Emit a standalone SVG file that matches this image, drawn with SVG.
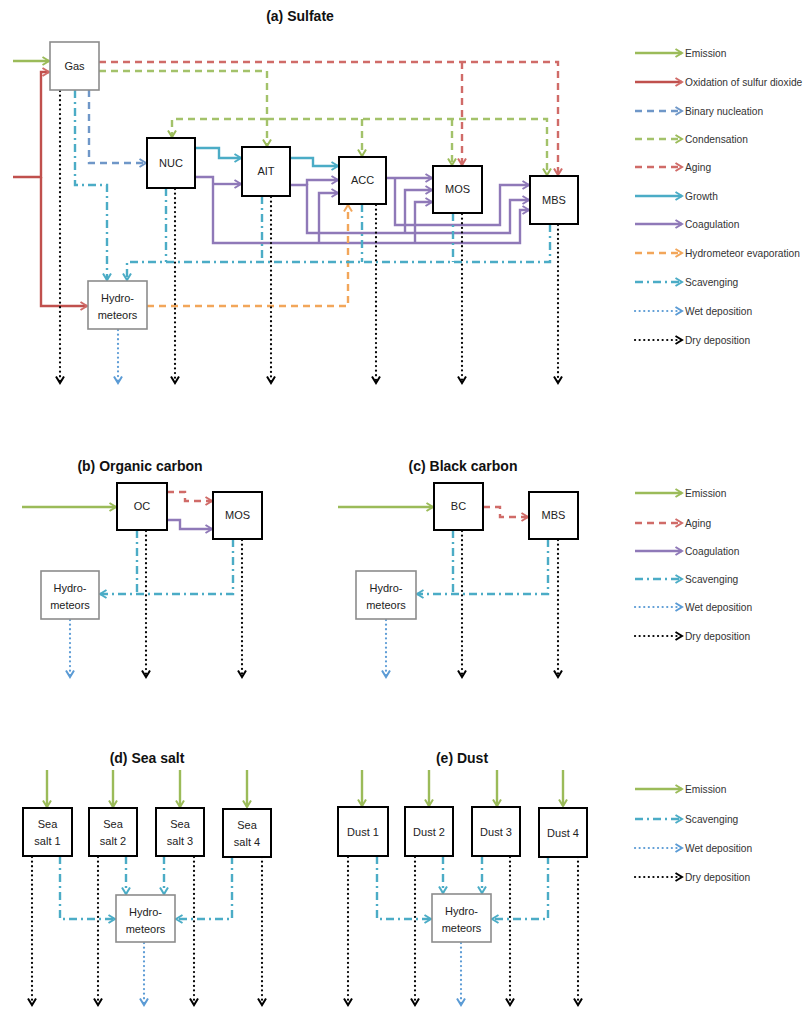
<svg xmlns="http://www.w3.org/2000/svg" width="803" height="1012" viewBox="0 0 803 1012">
<defs>
<style>
.box{fill:#fff;stroke:#000;stroke-width:2}
.hbox{fill:#fff;stroke:#8c8c8c;stroke-width:1.6}
text{font-family:"Liberation Sans",Arial,sans-serif;fill:#222}
.lbl{font-size:11px;text-anchor:middle}
.ttl{font-size:14px;font-weight:bold;text-anchor:middle;fill:#111}
.leg{font-size:10.2px;fill:#333}
.c{fill:none;stroke-width:2.4}
.emi{stroke:#9bbb59;marker-end:url(#mG)}
.oxi{stroke:#c0504d;marker-end:url(#mR)}
.nuc{stroke:#6f97c8;stroke-dasharray:7 5;marker-end:url(#mB)}
.cond{stroke:#a3c26a;stroke-dasharray:7 5;marker-end:url(#mG)}
.age{stroke:#d06b68;stroke-dasharray:7 5;marker-end:url(#mR)}
.grow{stroke:#4bacc6;marker-end:url(#mC)}
.coag{stroke:#8f79b8;marker-end:url(#mP)}
.evap{stroke:#f2a65a;stroke-dasharray:7 5;marker-end:url(#mO)}
.scav{stroke:#4bacc6;stroke-dasharray:8 4 2 4;marker-end:url(#mC)}
.wet{stroke:#5b9bd5;stroke-width:2.2;stroke-dasharray:0.1 4.5;stroke-linecap:round;marker-end:url(#mW)}
.dry{stroke:#000;stroke-width:2.2;stroke-dasharray:0.1 4.5;stroke-linecap:round;marker-end:url(#mK)}
.nm{marker-end:none}
</style>
<marker id="mG" viewBox="0 0 10 10" refX="8.5" refY="5" markerWidth="10" markerHeight="10" markerUnits="userSpaceOnUse" orient="auto"><path d="M2,1 L8.5,5 L2,9" fill="none" stroke="#9bbb59" stroke-width="2"/></marker>
<marker id="mR" viewBox="0 0 10 10" refX="8.5" refY="5" markerWidth="10" markerHeight="10" markerUnits="userSpaceOnUse" orient="auto"><path d="M2,1 L8.5,5 L2,9" fill="none" stroke="#d06b68" stroke-width="2"/></marker>
<marker id="mB" viewBox="0 0 10 10" refX="8.5" refY="5" markerWidth="10" markerHeight="10" markerUnits="userSpaceOnUse" orient="auto"><path d="M2,1 L8.5,5 L2,9" fill="none" stroke="#6f97c8" stroke-width="2"/></marker>
<marker id="mC" viewBox="0 0 10 10" refX="8.5" refY="5" markerWidth="10" markerHeight="10" markerUnits="userSpaceOnUse" orient="auto"><path d="M2,1 L8.5,5 L2,9" fill="none" stroke="#4bacc6" stroke-width="2"/></marker>
<marker id="mP" viewBox="0 0 10 10" refX="8.5" refY="5" markerWidth="10" markerHeight="10" markerUnits="userSpaceOnUse" orient="auto"><path d="M2,1 L8.5,5 L2,9" fill="none" stroke="#8f79b8" stroke-width="2"/></marker>
<marker id="mO" viewBox="0 0 10 10" refX="8.5" refY="5" markerWidth="10" markerHeight="10" markerUnits="userSpaceOnUse" orient="auto"><path d="M2,1 L8.5,5 L2,9" fill="none" stroke="#f2a65a" stroke-width="2"/></marker>
<marker id="mW" viewBox="0 0 10 10" refX="8.5" refY="5" markerWidth="10" markerHeight="10" markerUnits="userSpaceOnUse" orient="auto"><path d="M2,1 L8.5,5 L2,9" fill="none" stroke="#5b9bd5" stroke-width="2"/></marker>
<marker id="mK" viewBox="0 0 10 10" refX="8.5" refY="5" markerWidth="10" markerHeight="10" markerUnits="userSpaceOnUse" orient="auto"><path d="M2,1 L8.5,5 L2,9" fill="none" stroke="#000" stroke-width="2"/></marker>
</defs>
<rect width="803" height="1012" fill="#fff"/>

<!-- Titles -->
<text class="ttl" x="300" y="21">(a) Sulfate</text>
<text class="ttl" x="140" y="471">(b) Organic carbon</text>
<text class="ttl" x="463" y="471">(c) Black carbon</text>
<text class="ttl" x="147" y="763">(d) Sea salt</text>
<text class="ttl" x="462" y="763">(e) Dust</text>

<!-- Connectors -->
<g id="connectors">
<!-- (a) -->
<path class="c emi" d="M13,61 H49"/>
<path class="c oxi" d="M13,177 H41 V72 H49"/>
<path class="c oxi" d="M41,177 V306 H87"/>
<path class="c nuc" d="M89,90 V163 H146"/>
<path class="c age" d="M99,62 H558 V175"/>
<path class="c age" d="M462,62 V165"/>
<path class="c cond" d="M99,71 H267 V146"/>
<path class="c cond" d="M267,119 H172 V137"/>
<path class="c cond" d="M267,119 H547 V175"/>
<path class="c cond" d="M362,119 V156"/>
<path class="c cond" d="M452,119 V165"/>
<path class="c grow" d="M195,148 H219 V158 H241"/>
<path class="c grow" d="M290,158 H313 V166 H338"/>
<path class="c coag" d="M195,177 H213 V243 H520 V210 H529"/>
<path class="c coag" d="M213,184 H241"/>
<path class="c coag" d="M319,243 V193 H338"/>
<path class="c coag" d="M415,243 V202 H432"/>
<path class="c coag" d="M290,185 H307 V233 H510 V200 H529"/>
<path class="c coag" d="M307,185 V180 H338"/>
<path class="c coag" d="M405,233 V190 H432"/>
<path class="c coag" d="M386,178 H432"/>
<path class="c coag" d="M395,178 V225 H500 V185 H529"/>
<path class="c evap" d="M147,306 H348 V205"/>
<path class="c scav" d="M75,90 V185 H107 V280"/>
<path class="c scav" d="M550,224 V262 H127 V280"/>
<path class="c scav nm" d="M166,188 V262"/>
<path class="c scav nm" d="M262,196 V262"/>
<path class="c scav nm" d="M362,204 V262"/>
<path class="c scav nm" d="M453,213 V262"/>
<path class="c dry" d="M60,91 V383"/>
<path class="c dry" d="M175,189 V383"/>
<path class="c dry" d="M271,197 V383"/>
<path class="c dry" d="M376,205 V383"/>
<path class="c dry" d="M462,214 V383"/>
<path class="c dry" d="M558,225 V383"/>
<path class="c wet" d="M118,330 V383"/>

<!-- (b) -->
<path class="c emi" d="M22,507 H116"/>
<path class="c age" d="M167,492 H185 V501 H212"/>
<path class="c coag" d="M167,520 H180 V529 H212"/>
<path class="c scav" d="M233,539 V594 H100"/>
<path class="c scav nm" d="M137,530 V594"/>
<path class="c dry" d="M146,531 V677"/>
<path class="c dry" d="M242,540 V677"/>
<path class="c wet" d="M70,620 V677"/>

<!-- (c) -->
<path class="c emi" d="M338,507 H433"/>
<path class="c age" d="M483,507 H500 V517 H528"/>
<path class="c scav" d="M548,539 V594 H417"/>
<path class="c scav nm" d="M453,530 V594"/>
<path class="c dry" d="M462,531 V677"/>
<path class="c dry" d="M558,540 V677"/>
<path class="c wet" d="M386,620 V677"/>

<!-- (d) -->
<path class="c emi" d="M47,770 V807"/>
<path class="c emi" d="M113,770 V807"/>
<path class="c emi" d="M180,770 V807"/>
<path class="c emi" d="M247,770 V807"/>
<path class="c scav" d="M60,856 V919 H115"/>
<path class="c scav" d="M126,856 V894"/>
<path class="c scav" d="M164,856 V894"/>
<path class="c scav" d="M232,856 V919 H176"/>
<path class="c dry" d="M32,857 V1005"/>
<path class="c dry" d="M98,857 V1005"/>
<path class="c dry" d="M194,857 V1005"/>
<path class="c dry" d="M262,857 V1005"/>
<path class="c wet" d="M144,943 V1005"/>

<!-- (e) -->
<path class="c emi" d="M362,770 V806"/>
<path class="c emi" d="M429,770 V806"/>
<path class="c emi" d="M497,770 V806"/>
<path class="c emi" d="M563,770 V806"/>
<path class="c scav" d="M377,856 V919 H431"/>
<path class="c scav" d="M443,856 V893"/>
<path class="c scav" d="M482,856 V893"/>
<path class="c scav" d="M548,856 V919 H492"/>
<path class="c dry" d="M348,857 V1005"/>
<path class="c dry" d="M415,857 V1005"/>
<path class="c dry" d="M510,857 V1005"/>
<path class="c dry" d="M578,857 V1005"/>
<path class="c wet" d="M461,943 V1005"/>
</g>

<!-- Nodes (a) -->
<g id="gas"><rect class="hbox" x="50" y="42" width="49" height="48"/><text class="lbl" x="74.5" y="70">Gas</text></g>
<g id="nuc"><rect class="box" x="147" y="138" width="48" height="50"/><text class="lbl" x="171" y="167">NUC</text></g>
<g id="ait"><rect class="box" x="242" y="147" width="48" height="49"/><text class="lbl" x="266" y="175">AIT</text></g>
<g id="acc"><rect class="box" x="339" y="157" width="47" height="47"/><text class="lbl" x="362.5" y="184">ACC</text></g>
<g id="mos"><rect class="box" x="433" y="166" width="49" height="47"/><text class="lbl" x="457.5" y="193">MOS</text></g>
<g id="mbs"><rect class="box" x="530" y="176" width="48" height="48"/><text class="lbl" x="554" y="204">MBS</text></g>
<g id="hydro-a"><rect class="hbox" x="88" y="281" width="59" height="48"/><text class="lbl" x="117.5" y="302">Hydro-</text><text class="lbl" x="117.5" y="319">meteors</text></g>

<!-- Nodes (b) -->
<g id="oc"><rect class="box" x="117" y="483" width="50" height="47"/><text class="lbl" x="142" y="510">OC</text></g>
<g id="mos-b"><rect class="box" x="213" y="492" width="49" height="47"/><text class="lbl" x="237.5" y="519">MOS</text></g>
<g id="hydro-b"><rect class="hbox" x="41" y="571" width="58" height="48"/><text class="lbl" x="70" y="592">Hydro-</text><text class="lbl" x="70" y="609">meteors</text></g>

<!-- Nodes (c) -->
<g id="bc"><rect class="box" x="434" y="483" width="49" height="47"/><text class="lbl" x="458.5" y="510">BC</text></g>
<g id="mbs-c"><rect class="box" x="529" y="492" width="49" height="47"/><text class="lbl" x="553.5" y="519">MBS</text></g>
<g id="hydro-c"><rect class="hbox" x="356" y="571" width="60" height="48"/><text class="lbl" x="386" y="592">Hydro-</text><text class="lbl" x="386" y="609">meteors</text></g>

<!-- Nodes (d) -->
<g id="ss1"><rect class="box" x="23" y="808" width="49" height="48"/><text class="lbl" x="47.5" y="828">Sea</text><text class="lbl" x="47.5" y="845">salt 1</text></g>
<g id="ss2"><rect class="box" x="89" y="808" width="48" height="48"/><text class="lbl" x="113" y="828">Sea</text><text class="lbl" x="113" y="845">salt 2</text></g>
<g id="ss3"><rect class="box" x="156" y="808" width="48" height="48"/><text class="lbl" x="180" y="828">Sea</text><text class="lbl" x="180" y="845">salt 3</text></g>
<g id="ss4"><rect class="box" x="223" y="809" width="48" height="48"/><text class="lbl" x="247" y="829">Sea</text><text class="lbl" x="247" y="846">salt 4</text></g>
<g id="hydro-d"><rect class="hbox" x="116" y="895" width="59" height="47"/><text class="lbl" x="145.5" y="916">Hydro-</text><text class="lbl" x="145.5" y="933">meteors</text></g>

<!-- Nodes (e) -->
<g id="d1"><rect class="box" x="338" y="807" width="50" height="49"/><text class="lbl" x="363" y="836">Dust 1</text></g>
<g id="d2"><rect class="box" x="405" y="807" width="48" height="49"/><text class="lbl" x="429" y="836">Dust 2</text></g>
<g id="d3"><rect class="box" x="472" y="807" width="48" height="49"/><text class="lbl" x="496" y="836">Dust 3</text></g>
<g id="d4"><rect class="box" x="539" y="808" width="48" height="49"/><text class="lbl" x="563" y="837">Dust 4</text></g>
<g id="hydro-e"><rect class="hbox" x="432" y="894" width="59" height="48"/><text class="lbl" x="461.5" y="915">Hydro-</text><text class="lbl" x="461.5" y="932">meteors</text></g>

<!-- Legend (a) -->
<g id="legend-a">
<path class="c emi" d="M635,53 H682"/><text class="leg" x="685" y="56.5">Emission</text>
<path class="c oxi" d="M635,82 H682"/><text class="leg" x="685" y="85.5">Oxidation of sulfur dioxide</text>
<path class="c nuc" d="M635,111 H682"/><text class="leg" x="685" y="114.5">Binary nucleation</text>
<path class="c cond" d="M635,139 H682"/><text class="leg" x="685" y="142.5">Condensation</text>
<path class="c age" d="M635,167 H682"/><text class="leg" x="685" y="170.5">Aging</text>
<path class="c grow" d="M635,196 H682"/><text class="leg" x="685" y="199.5">Growth</text>
<path class="c coag" d="M635,224 H682"/><text class="leg" x="685" y="227.5">Coagulation</text>
<path class="c evap" d="M635,253 H682"/><text class="leg" x="685" y="256.5">Hydrometeor evaporation</text>
<path class="c scav" d="M635,282 H682"/><text class="leg" x="685" y="285.5">Scavenging</text>
<path class="c wet" d="M635,311 H682"/><text class="leg" x="685" y="314.5">Wet deposition</text>
<path class="c dry" d="M635,340 H682"/><text class="leg" x="685" y="343.5">Dry deposition</text>
</g>
<!-- Legend (b,c) -->
<g id="legend-bc">
<path class="c emi" d="M635,493 H682"/><text class="leg" x="685" y="496.5">Emission</text>
<path class="c age" d="M635,523 H682"/><text class="leg" x="685" y="526.5">Aging</text>
<path class="c coag" d="M635,551 H682"/><text class="leg" x="685" y="554.5">Coagulation</text>
<path class="c scav" d="M635,579 H682"/><text class="leg" x="685" y="582.5">Scavenging</text>
<path class="c wet" d="M635,607 H682"/><text class="leg" x="685" y="610.5">Wet deposition</text>
<path class="c dry" d="M635,636 H682"/><text class="leg" x="685" y="639.5">Dry deposition</text>
</g>
<!-- Legend (d,e) -->
<g id="legend-de">
<path class="c emi" d="M635,789 H682"/><text class="leg" x="685" y="792.5">Emission</text>
<path class="c scav" d="M635,819 H682"/><text class="leg" x="685" y="822.5">Scavenging</text>
<path class="c wet" d="M635,848 H682"/><text class="leg" x="685" y="851.5">Wet deposition</text>
<path class="c dry" d="M635,877 H682"/><text class="leg" x="685" y="880.5">Dry deposition</text>
</g>
</svg>
